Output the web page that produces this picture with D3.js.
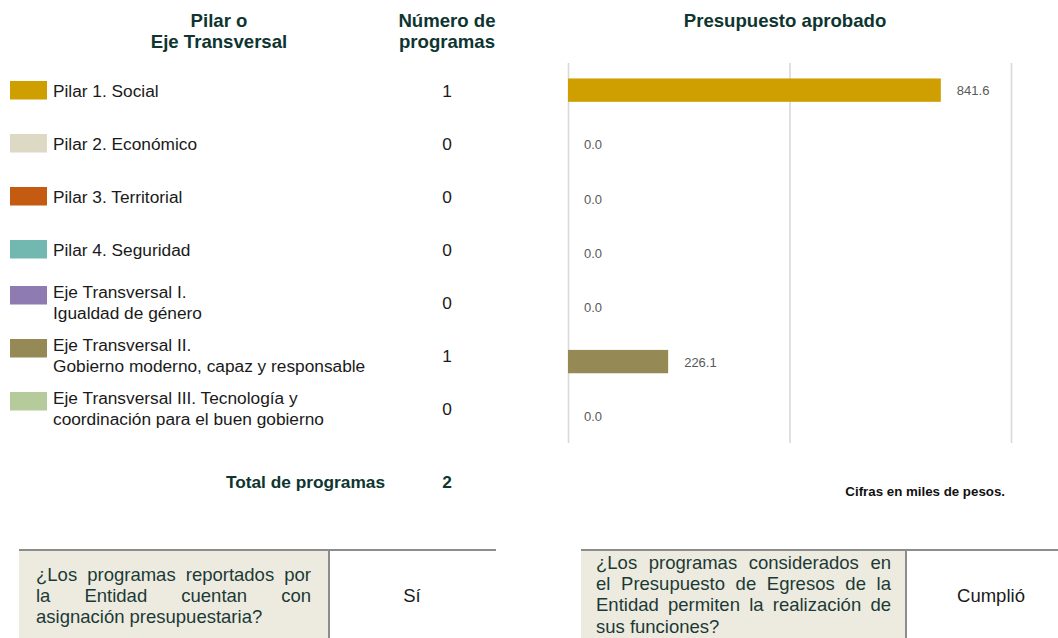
<!DOCTYPE html>
<html lang="es">
<head>
<meta charset="utf-8">
<script src="https://cdn.jsdelivr.net/npm/d3@7"></script>
<style>
  html, body { margin: 0; padding: 0; background: #ffffff; }
  svg { display: block; font-family: "Liberation Sans", Arial, sans-serif; }
</style>
</head>
<body>
<svg id="chart" width="1058" height="638"></svg>
<script>
// Pilares y ejes transversales (cada etiqueta puede ocupar una o dos líneas)
const categories = [
  ["Pilar 1. Social"],
  ["Pilar 2. Económico"],
  ["Pilar 3. Territorial"],
  ["Pilar 4. Seguridad"],
  ["Eje Transversal I.", "Igualdad de género"],
  ["Eje Transversal II.", "Gobierno moderno, capaz y responsable"],
  ["Eje Transversal III. Tecnología y", "coordinación para el buen gobierno"]
];
const programs = [1, 0, 0, 0, 0, 1, 0];
const budget = [841.6, 0.0, 0.0, 0.0, 0.0, 226.1, 0.0];   // miles de pesos
const colors = ["#CF9E00", "#DDD9C4", "#C55A11", "#72B8B0", "#8E7BB2", "#958A55", "#B6CB9C"];
const budgetTicks = [0, 500, 1000];
const totalPrograms = 2;

const headerLeft = ["Pilar o", "Eje Transversal"];
const headerCount = ["Número de", "programas"];
const headerBudget = "Presupuesto aprobado";
const totalLabel = "Total de programas";
const unitsNote = "Cifras en miles de pesos.";

const question1 = ["¿Los programas reportados por", "la Entidad cuentan con", "asignación presupuestaria?"];
const answer1 = "Sí";
const question2 = ["¿Los programas considerados en", "el Presupuesto de Egresos de la", "Entidad permiten la realización de", "sus funciones?"];
const answer2 = "Cumplió";

const svg = d3.select("#chart");
const keys = categories.map((c, i) => i);
const titleColor = "#0E3530";
const textColor = "#1a1a1a";

// ---- Encabezados ----
const header = svg.append("g").attr("font-weight", "bold").attr("font-size", 18.6)
  .attr("fill", titleColor).attr("text-anchor", "middle");
headerLeft.forEach((t, i) => header.append("text").attr("x", 219).attr("y", 27 + i * 21).text(t));
headerCount.forEach((t, i) => header.append("text").attr("x", 447).attr("y", 27 + i * 21).text(t));
header.append("text").attr("x", 785).attr("y", 27).text(headerBudget);

// ---- Leyenda y número de programas ----
const rowY = d3.scaleBand().domain(keys).range([64.5, 435.5]);
const legend = svg.append("g");
const rows = legend.selectAll("g.row").data(keys).join("g")
  .attr("class", "row")
  .attr("transform", i => `translate(0,${rowY(i) + rowY.bandwidth() / 2})`);

rows.append("rect")
  .attr("x", 10).attr("width", 37)
  .attr("y", i => categories[i].length > 1 ? -17 : -10)
  .attr("height", 18.5)
  .attr("fill", i => colors[i]);

rows.each(function (i) {
  const g = d3.select(this);
  const lines = categories[i];
  const base = lines.length > 1 ? -5 : 6;
  lines.forEach((t, k) => g.append("text")
    .attr("x", 53).attr("y", base + k * 21)
    .attr("font-size", 17.3).attr("fill", textColor).text(t));
});

rows.append("text")
  .attr("x", 447).attr("y", 6)
  .attr("text-anchor", "middle").attr("font-size", 17.3).attr("fill", textColor)
  .text(i => programs[i]);

// Total
svg.append("text").attr("x", 385).attr("y", 488)
  .attr("text-anchor", "end").attr("font-weight", "bold").attr("font-size", 17.3)
  .attr("fill", titleColor).text(totalLabel);
svg.append("text").attr("x", 447).attr("y", 488)
  .attr("text-anchor", "middle").attr("font-weight", "bold").attr("font-size", 17.3)
  .attr("fill", titleColor).text(totalPrograms);

// ---- Barras de presupuesto aprobado ----
const x = d3.scaleLinear().domain([0, 1000]).range([568, 1011]);
const y = d3.scaleBand().domain(keys).range([63, 443]).paddingInner(0.57).paddingOuter(0.285);

svg.append("g")
  .attr("transform", "translate(0,443)")
  .call(d3.axisBottom(x).tickValues(budgetTicks).tickSize(-380).tickFormat(""))
  .call(g => g.select(".domain").remove())
  .call(g => g.selectAll(".tick line").attr("stroke", "#d9d9d9").attr("stroke-width", 1.6));

svg.append("g").selectAll("rect").data(keys).join("rect")
  .attr("x", x(0))
  .attr("y", i => y(i))
  .attr("width", i => x(budget[i]) - x(0))
  .attr("height", y.bandwidth())
  .attr("fill", i => colors[i]);

const fmt = d3.format(".1f");
svg.append("g").selectAll("text").data(keys).join("text")
  .attr("x", i => x(budget[i]) + 16)
  .attr("y", i => y(i) + y.bandwidth() / 2 + 5)
  .attr("font-size", 13).attr("fill", "#595959")
  .text(i => fmt(budget[i]));

svg.append("text").attr("x", 1005).attr("y", 496)
  .attr("text-anchor", "end").attr("font-weight", "bold").attr("font-size", 13.3)
  .attr("fill", "#111").text(unitsNote);

// ---- Cuadros de verificación ----
function justifyLine(g, line, x0, x1, yy, last) {
  const words = line.split(" ");
  const nodes = words.map(w => g.append("text").attr("y", yy).attr("font-size", 18.5)
    .attr("fill", "#1C3A35").text(w));
  const widths = nodes.map(n => n.node().getComputedTextLength());
  const total = d3.sum(widths);
  const gap = (last || words.length < 2) ? 5.1 : (x1 - x0 - total) / (words.length - 1);
  let cx = x0;
  nodes.forEach((n, k) => { n.attr("x", cx); cx += widths[k] + gap; });
}

function checkBox(opts) {
  const g = svg.append("g");
  g.append("rect").attr("x", opts.left).attr("y", 551).attr("width", opts.split - opts.left)
    .attr("height", 100).attr("fill", "#EDEBE0");
  g.append("line").attr("x1", opts.left).attr("x2", opts.right).attr("y1", 550).attr("y2", 550)
    .attr("stroke", "#8c8c8c").attr("stroke-width", 2.2);
  g.append("line").attr("x1", opts.split + 1).attr("x2", opts.split + 1).attr("y1", 551).attr("y2", 650)
    .attr("stroke", "#8c8c8c").attr("stroke-width", 2);
  opts.lines.forEach((l, k) =>
    justifyLine(g, l, opts.textX0, opts.textX1, opts.firstBase + k * 21.2, k === opts.lines.length - 1));
  g.append("text").attr("x", opts.answerX).attr("y", 602)
    .attr("text-anchor", "middle").attr("font-size", 18.5).attr("fill", textColor).text(opts.answer);
}

checkBox({ left: 19, split: 328, right: 496, textX0: 36, textX1: 311,
  lines: question1, firstBase: 581, answer: answer1, answerX: 412 });
checkBox({ left: 581, split: 905, right: 1058, textX0: 596, textX1: 891,
  lines: question2, firstBase: 569, answer: answer2, answerX: 991 });
</script>
</body>
</html>
